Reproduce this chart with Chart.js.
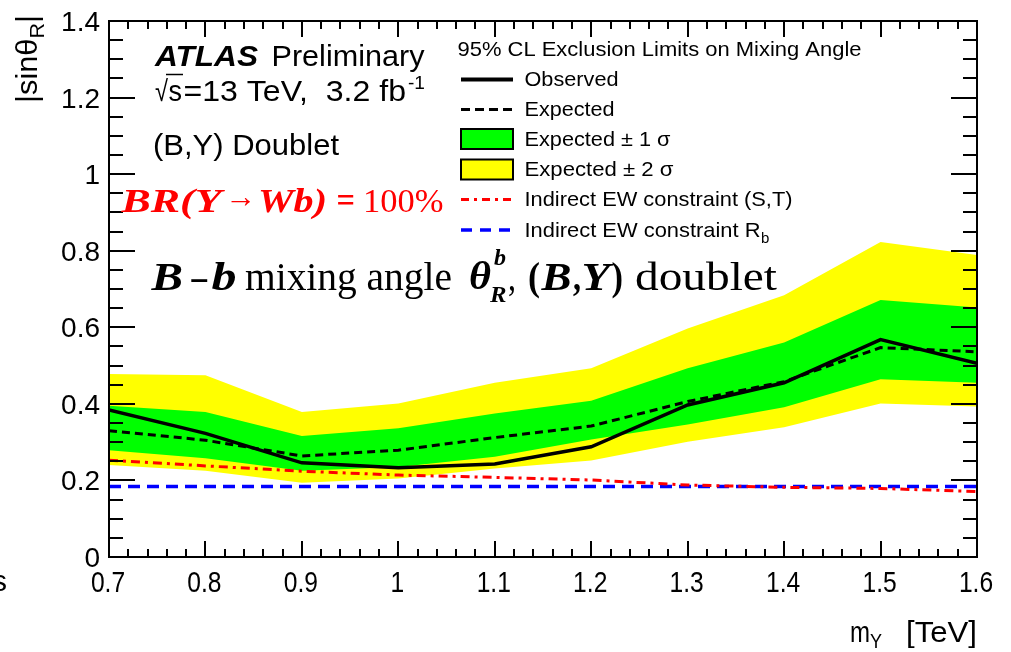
<!DOCTYPE html>
<html>
<head>
<meta charset="utf-8">
<script src="https://cdn.jsdelivr.net/npm/chart.js@4.4.1/dist/chart.umd.min.js"></script>
<style>
  html, body { margin: 0; padding: 0; background: #fff; }
  #c { display: block; }
</style>
</head>
<body>
<canvas id="c" width="1011" height="652"></canvas>
<script>
// Y mass points (TeV)
const massPoints = [0.7, 0.8, 0.9, 1.0, 1.1, 1.2, 1.3, 1.4, 1.5, 1.6];

// 95% CL limits on |sin theta_R|
const observed  = [0.384, 0.323, 0.246, 0.233, 0.243, 0.288, 0.397, 0.455, 0.568, 0.506];
const expected  = [0.330, 0.305, 0.264, 0.279, 0.312, 0.342, 0.406, 0.458, 0.547, 0.536];
const sigma1Up  = [0.395, 0.379, 0.316, 0.336, 0.375, 0.408, 0.493, 0.560, 0.671, 0.652];
const sigma1Dn  = [0.279, 0.258, 0.225, 0.235, 0.262, 0.307, 0.346, 0.391, 0.464, 0.455];
const sigma2Up  = [0.478, 0.475, 0.379, 0.401, 0.455, 0.493, 0.597, 0.684, 0.823, 0.789];
const sigma2Dn  = [0.240, 0.225, 0.194, 0.205, 0.231, 0.252, 0.301, 0.339, 0.401, 0.393];
const ewST      = [0.253, 0.238, 0.224, 0.214, 0.208, 0.201, 0.188, 0.182, 0.179, 0.171];
const ewRb      = [0.184, 0.184, 0.184, 0.184, 0.184, 0.184, 0.184, 0.184, 0.184, 0.184];

// axis tick labels
const xTickLabels = ['0.7', '0.8', '0.9', '1', '1.1', '1.2', '1.3', '1.4', '1.5', '1.6'];
const yTickLabels = ['0', '0.2', '0.4', '0.6', '0.8', '1', '1.2', '1.4'];

const SANS = '"Liberation Sans", Arial, Helvetica, sans-serif';
const SERIF = '"Liberation Serif", "Times New Roman", Times, serif';

function pts(arr) { return massPoints.map((m, i) => ({ x: m, y: arr[i] })); }

// text helper: optional target width squeezes/stretches the run horizontally
function txt(ctx, s, x, y, font, color, w, align) {
  ctx.save();
  ctx.font = font;
  ctx.fillStyle = color || '#000';
  ctx.textBaseline = 'alphabetic';
  ctx.textAlign = align || 'left';
  let sx = 1;
  if (w) sx = w / ctx.measureText(s).width;
  ctx.translate(x, y);
  ctx.scale(sx, 1);
  ctx.fillText(s, 0, 0);
  ctx.restore();
}

const decor = {
  id: 'decor',
  afterDatasetsDraw(chart) {
    const ctx = chart.ctx;
    const a = chart.chartArea;
    const xs = chart.scales.x, ys = chart.scales.y;

    // frame
    ctx.save();
    ctx.strokeStyle = '#000';
    ctx.lineWidth = 2;
    ctx.strokeRect(a.left, a.top, a.right - a.left, a.bottom - a.top);

    // inward ticks on all four sides
    ctx.beginPath();
    for (let k = 0; k <= 45; k++) {
      const px = Math.round(xs.getPixelForValue(0.7 + k * 0.02));
      const len = (k % 5 === 0) ? 16 : 8;
      ctx.moveTo(px, a.bottom); ctx.lineTo(px, a.bottom - len);
      ctx.moveTo(px, a.top); ctx.lineTo(px, a.top + len);
    }
    for (let k = 0; k <= 28; k++) {
      const py = Math.round(ys.getPixelForValue(k * 0.05));
      const len = (k % 4 === 0) ? 26 : 14;
      ctx.moveTo(a.left, py); ctx.lineTo(a.left + len, py);
      ctx.moveTo(a.right, py); ctx.lineTo(a.right - len, py);
    }
    ctx.stroke();
    ctx.restore();

    // tick labels
    yTickLabels.forEach(l => {
      const py = ys.getPixelForValue(Number(l));
      txt(ctx, l, 100, py + 10, '28px ' + SANS, '#000', null, 'right');
    });
    xTickLabels.forEach(l => {
      const px = xs.getPixelForValue(Number(l));
      ctx.save();
      ctx.font = '30px ' + SANS;
      ctx.fillStyle = '#000';
      ctx.textAlign = 'center';
      ctx.translate(px - 1, 591.5);
      ctx.scale(0.82, 1);
      ctx.fillText(l, 0, 0);
      ctx.restore();
    });
    // clipped glyph at the far left
    txt(ctx, 's', -8, 591, '30px ' + SANS, '#000');

    // x title
    txt(ctx, 'm', 850, 641.5, '30px ' + SANS, '#000', 20);
    txt(ctx, 'Y', 870, 648, '20px ' + SANS, '#000', 12);
    txt(ctx, '[TeV]', 977, 641.5, '30px ' + SANS, '#000', 71, 'right');

    // y title (rotated)
    ctx.save();
    ctx.translate(37, 103);
    ctx.rotate(-Math.PI / 2);
    ctx.fillStyle = '#000';
    ctx.font = '30px ' + SANS;
    const w1 = ctx.measureText('|sin\u03B8').width;
    const w3 = ctx.measureText('|').width;
    ctx.font = '21px ' + SANS;
    const w2 = ctx.measureText('R').width;
    const sy = 88 / (w1 + w2 + w3);
    ctx.scale(sy, 1);
    ctx.font = '30px ' + SANS;
    ctx.fillText('|sin\u03B8', 0, 0);
    ctx.font = '21px ' + SANS;
    ctx.fillText('R', w1, 7);
    ctx.font = '30px ' + SANS;
    ctx.fillText('|', w1 + w2, 0);
    ctx.restore();

    // ATLAS label block
    txt(ctx, 'ATLAS', 155, 66, 'italic bold 29px ' + SANS, '#000', 103);
    txt(ctx, 'Preliminary', 271.5, 66, '29px ' + SANS, '#000', 153);
    txt(ctx, '\u221A', 155, 100.5, '29px ' + SANS, '#000', 13);
    txt(ctx, 's', 168.5, 100.5, '29px ' + SANS, '#000', 13.5);
    ctx.save();
    ctx.strokeStyle = '#000'; ctx.lineWidth = 1.5;
    ctx.beginPath(); ctx.moveTo(166, 74.5); ctx.lineTo(183, 74.5); ctx.stroke();
    ctx.restore();
    txt(ctx, '=13 TeV,  3.2 fb', 183.5, 100.5, '29px ' + SANS, '#000', 222.5);
    txt(ctx, '-1', 408, 89, '18px ' + SANS, '#000', 17);
    txt(ctx, '(B,Y) Doublet', 153, 155, '29px ' + SANS, '#000', 186);

    // branching ratio label
    const red = '#ff0000';
    txt(ctx, 'BR(Y', 121.5, 211.5, 'italic bold 33px ' + SERIF, red, 100);
    txt(ctx, '\u2192', 225, 207, 'bold 32px ' + SERIF, red, 31);
    txt(ctx, 'Wb)', 258, 211.5, 'italic bold 33px ' + SERIF, red, 69);
    txt(ctx, '=', 336.5, 211.5, 'bold 35px ' + SERIF, red, 18.5);
    txt(ctx, '100%', 363, 211.5, '34px ' + SERIF, red, 80.5);

    // mixing angle caption
    const bi = 'italic bold 40px ' + SERIF;
    txt(ctx, 'B', 151.5, 290, bi, '#000', 31.5);
    txt(ctx, '\u2013', 191.5, 290, 'bold 40px ' + SERIF, '#000', 15.5);
    txt(ctx, 'b', 211.5, 290, bi, '#000', 25);
    txt(ctx, 'mixing angle', 245, 290, '40px ' + SERIF, '#000', 207);
    txt(ctx, '\u03B8', 469, 289, bi, '#000', 22);
    txt(ctx, 'b', 494, 265, 'italic bold 23px ' + SERIF, '#000', 12);
    txt(ctx, 'R', 490, 302, 'italic bold 24px ' + SERIF, '#000', 16.5);
    txt(ctx, ',', 508, 290, '40px ' + SERIF, '#000', 8);
    txt(ctx, '(', 528, 290, 'bold 40px ' + SERIF, '#000', 12);
    txt(ctx, 'B', 541.5, 290, bi, '#000', 30);
    txt(ctx, ',', 573, 290, 'bold 40px ' + SERIF, '#000', 8);
    txt(ctx, 'Y', 581.5, 290, bi, '#000', 28.5);
    txt(ctx, ')', 611.5, 290, 'bold 40px ' + SERIF, '#000', 11.5);
    txt(ctx, 'doublet', 635, 290, '40px ' + SERIF, '#000', 142);

    // legend
    const lf = '21px ' + SANS;
    txt(ctx, '95% CL Exclusion Limits on Mixing Angle', 457.5, 56, lf, '#000', 404);
    const lx0 = 461, lx1 = 513, tx = 524.5;
    function sample(y, color, width, dash) {
      ctx.save();
      ctx.strokeStyle = color; ctx.lineWidth = width; ctx.setLineDash(dash);
      ctx.beginPath(); ctx.moveTo(lx0, y); ctx.lineTo(lx1, y); ctx.stroke();
      ctx.restore();
    }
    function box(y, color) {
      ctx.save();
      ctx.fillStyle = color; ctx.fillRect(lx0, y - 10, lx1 - lx0, 20);
      ctx.strokeStyle = '#000'; ctx.lineWidth = 2;
      ctx.strokeRect(lx0, y - 10, lx1 - lx0, 20);
      ctx.restore();
    }
    sample(79.5, '#000', 4, []);
    txt(ctx, 'Observed', tx, 86, lf, '#000', 94);
    sample(109.5, '#000', 3, [9, 5]);
    txt(ctx, 'Expected', tx, 116, lf, '#000', 90);
    box(139, '#00ff00');
    txt(ctx, 'Expected \u00B1 1 \u03C3', tx, 146, lf, '#000', 146);
    box(169.5, '#ffff00');
    txt(ctx, 'Expected \u00B1 2 \u03C3', tx, 176, lf, '#000', 149);
    sample(199.5, '#ff0000', 3, [8, 5, 3, 5]);
    txt(ctx, 'Indirect EW constraint (S,T)', tx, 206, lf, '#000', 268);
    sample(230, '#0000ff', 3.5, [11, 8]);
    txt(ctx, 'Indirect EW constraint R', tx, 236.5, lf, '#000', 236);
    txt(ctx, 'b', 761, 243, '15px ' + SANS, '#000');
  }
};

const ctx = document.getElementById('c').getContext('2d');
new Chart(ctx, {
  type: 'line',
  data: {
    datasets: [
      { label: 'Observed', data: pts(observed), borderColor: '#000', borderWidth: 3.5, fill: false, order: 1 },
      { label: 'Expected', data: pts(expected), borderColor: '#000', borderWidth: 3, borderDash: [8, 5], fill: false, order: 2 },
      { label: 'Expected +1 sigma', data: pts(sigma1Up), borderColor: 'transparent', borderWidth: 0, backgroundColor: '#00ff00', fill: '+1', order: 9 },
      { label: 'Expected -1 sigma', data: pts(sigma1Dn), borderColor: 'transparent', borderWidth: 0, fill: false, order: 9 },
      { label: 'Expected +2 sigma', data: pts(sigma2Up), borderColor: 'transparent', borderWidth: 0, backgroundColor: '#ffff00', fill: '+1', order: 10 },
      { label: 'Expected -2 sigma', data: pts(sigma2Dn), borderColor: 'transparent', borderWidth: 0, fill: false, order: 10 },
      { label: 'Indirect EW constraint (S,T)', data: pts(ewST), borderColor: '#ff0000', borderWidth: 3, borderDash: [9, 5, 3, 5], fill: false, order: 3 },
      { label: 'Indirect EW constraint Rb', data: pts(ewRb), borderColor: '#0000ff', borderWidth: 3.5, borderDash: [12, 7], fill: false, order: 4 }
    ]
  },
  options: {
    responsive: false,
    animation: false,
    devicePixelRatio: 1,
    layout: { padding: { left: 109, top: 21, right: 34, bottom: 95 } },
    elements: { point: { radius: 0 }, line: { tension: 0 } },
    scales: {
      x: { type: 'linear', min: 0.7, max: 1.6, display: false },
      y: { type: 'linear', min: 0, max: 1.4, display: false }
    },
    plugins: { legend: { display: false }, tooltip: { enabled: false } }
  },
  plugins: [decor]
});
</script>
</body>
</html>
